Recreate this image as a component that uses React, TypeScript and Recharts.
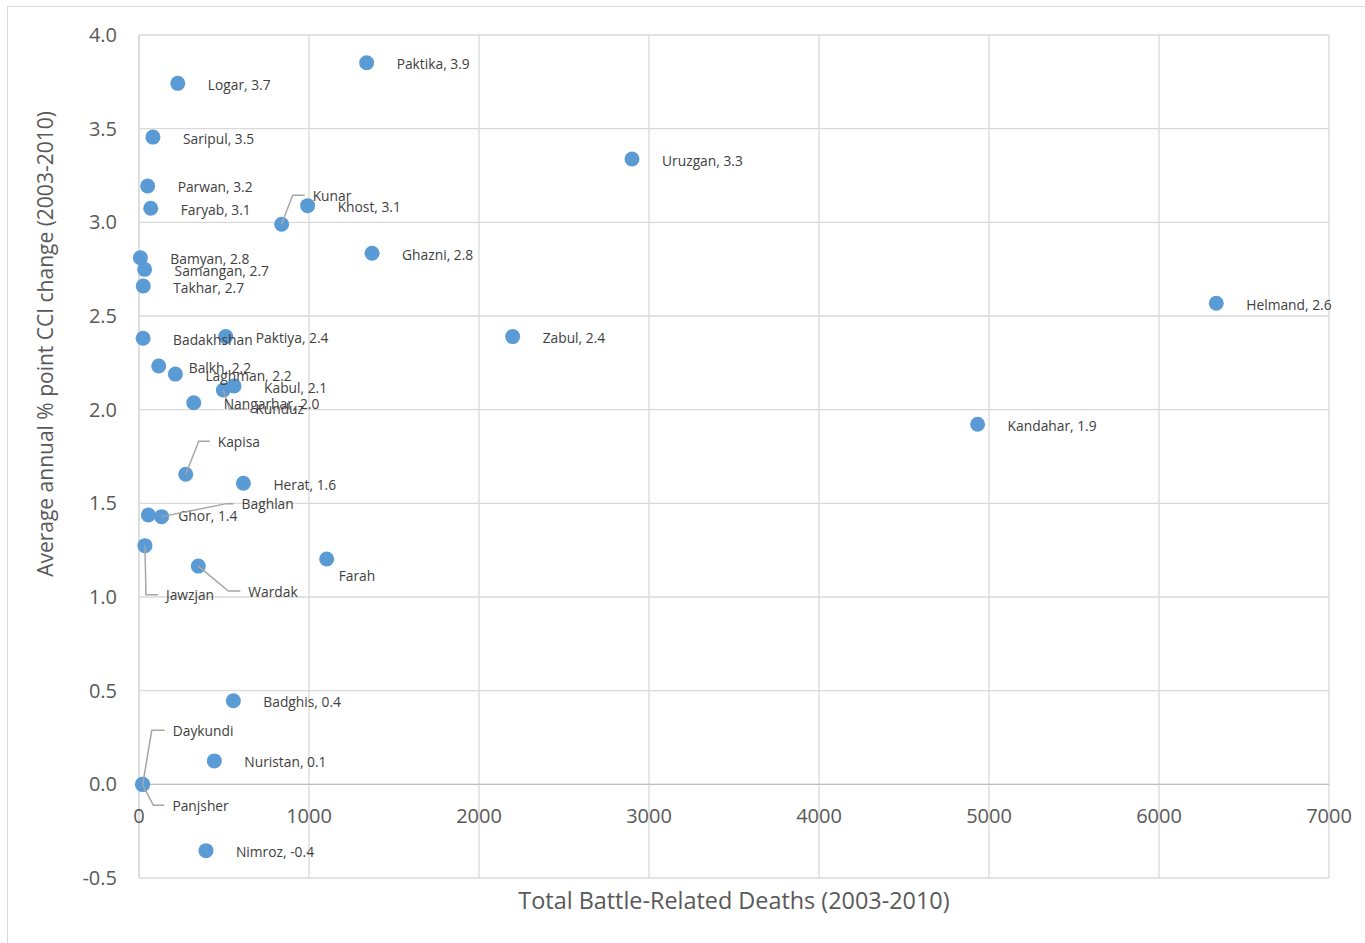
import { ScatterChart, Scatter, XAxis, YAxis, CartesianGrid, ReferenceLine, Label } from 'recharts'

// Province data
const PROVINCES = [
  'Paktika', 'Logar', 'Saripul', 'Uruzgan', 'Parwan', 'Faryab', 'Kunar', 'Khost',
  'Ghazni', 'Bamyan', 'Samangan', 'Takhar', 'Helmand', 'Badakhshan', 'Paktiya', 'Zabul',
  'Balkh', 'Laghman', 'Kabul', 'Kunduz', 'Nangarhar', 'Kandahar', 'Kapisa', 'Herat',
  'Ghor', 'Baghlan', 'Jawzjan', 'Farah', 'Wardak', 'Badghis', 'Daykundi', 'Nuristan',
  'Panjsher', 'Nimroz',
]
const DEATHS = [
  1339, 228, 82, 2900, 51, 69, 839, 992,
  1371, 8, 33, 25, 6337, 24, 510, 2198,
  116, 214, 559, 496, 322, 4933, 275, 614,
  55, 133, 35, 1104, 349, 555, 22, 443,
  20, 394,
]
const CCI_CHANGE = [
  3.852, 3.742, 3.455, 3.338, 3.194, 3.075, 2.99, 3.089,
  2.835, 2.811, 2.749, 2.66, 2.568, 2.381, 2.39, 2.39,
  2.233, 2.19, 2.126, 2.105, 2.037, 1.922, 1.655, 1.607,
  1.438, 1.429, 1.274, 1.203, 1.165, 0.446, 0.0, 0.125,
  0.0, -0.354,
]
// these labels show the province name only
const NAME_ONLY = ['Kunar', 'Kunduz', 'Kapisa', 'Baghlan', 'Jawzjan', 'Wardak', 'Farah', 'Daykundi', 'Panjsher', 'Badakhshan']

const X_TICKS = [0, 1000, 2000, 3000, 4000, 5000, 6000, 7000]
const Y_TICKS = [-0.5, 0, 0.5, 1.0, 1.5, 2.0, 2.5, 3.0, 3.5, 4.0]

const data = PROVINCES.map((name, i) => ({ name, deaths: DEATHS[i], cci: CCI_CHANGE[i] }))

const FONT = '"Open Sans", "Noto Sans", sans-serif'
const DOT_COLOR = '#5B9BD5'
const LEADER_COLOR = '#A6A6A6'

// moved labels: text start offset (dx, dy) from the dot, ex = elbow of leader line
const LABEL_LAYOUT: Record<string, { dx: number; dy: number; ex?: number }> = {
  Kunar: { dx: 31, dy: -29, ex: 11 },
  Kunduz: { dx: 32, dy: 19, ex: 6 },
  Kapisa: { dx: 32, dy: -33, ex: 13 },
  Baghlan: { dx: 80, dy: -13, ex: 65 },
  Jawzjan: { dx: 21, dy: 49, ex: 1 },
  Wardak: { dx: 50, dy: 25, ex: 30 },
  Daykundi: { dx: 30, dy: -54, ex: 9 },
  Panjsher: { dx: 30, dy: 21, ex: 11 },
  Farah: { dx: 12, dy: 17 },
}

function Dot(props: any) {
  const { cx, cy } = props
  return <circle cx={cx} cy={cy} r={7.5} fill={DOT_COLOR} />
}

function PointLabel(props: any) {
  const { cx, cy, payload } = props
  const name = payload.name
  const text = NAME_ONLY.includes(name) ? name : `${name}, ${payload.cci.toFixed(1)}`
  const layout = LABEL_LAYOUT[name] ?? { dx: 30, dy: 1 }
  const ty = cy + layout.dy
  return (
    <g>
      {layout.ex !== undefined && (
        <polyline
          points={`${cx},${cy} ${cx + layout.ex},${ty} ${cx + layout.dx - 8},${ty}`}
          fill="none"
          stroke={LEADER_COLOR}
          strokeWidth={1.5}
        />
      )}
      <text
        x={cx + layout.dx}
        y={ty}
        dominantBaseline="central"
        fontFamily={FONT}
        fontSize={13.8}
        fill="#404040"
      >
        {text}
      </text>
    </g>
  )
}

function XTick(props: any) {
  const { x, y, payload } = props
  // horizontal axis crosses at 0, so its labels sit under the 0.0 line
  return (
    <text x={x} y={y - 63} textAnchor="middle" dominantBaseline="central" fontFamily={FONT} fontSize={20} fill="#595959">
      {payload.value}
    </text>
  )
}

export default function App() {
  return (
    <div style={{ position: 'absolute', left: 0, top: 0, width: 1365, height: 943, overflow: 'hidden', background: '#fff' }}>
      <div style={{ position: 'absolute', left: 7, top: 6, width: 1420, height: 1000, border: '1px solid #D9D9D9' }} />
      <ScatterChart
        width={1365}
        height={943}
        margin={{ top: 35, right: 36, bottom: 35, left: 79 }}
        style={{ position: 'absolute', left: 0, top: 0 }}
      >
        <CartesianGrid stroke="#D9D9D9" strokeWidth={1.3} />
        <XAxis
          type="number"
          dataKey="deaths"
          domain={[0, 7000]}
          ticks={X_TICKS}
          axisLine={false}
          tickLine={false}
          tickSize={0}
          tickMargin={0}
          height={30}
          tick={<XTick />}
        >
          <Label
            content={() => (
              <text x={734} y={900} textAnchor="middle" dominantBaseline="central" fontFamily={FONT} fontSize={23.4} fill="#595959">
                Total Battle-Related Deaths (2003-2010)
              </text>
            )}
          />
        </XAxis>
        <YAxis
          type="number"
          dataKey="cci"
          domain={[-0.5, 4]}
          ticks={Y_TICKS}
          width={60}
          axisLine={{ stroke: '#D9D9D9', strokeWidth: 1.3 }}
          tickLine={false}
          tickSize={0}
          tickMargin={22}
          tickFormatter={(v: number) => v.toFixed(1)}
          tick={{ fill: '#595959', fontSize: 20, fontFamily: FONT }}
        >
          <Label
            content={() => (
              <text
                x={45}
                y={344}
                transform="rotate(-90, 45, 344)"
                textAnchor="middle"
                dominantBaseline="central"
                fontFamily={FONT}
                fontSize={21}
                fill="#595959"
              >
                Average annual % point CCI change (2003-2010)
              </text>
            )}
          />
        </YAxis>
        <ReferenceLine y={0} stroke="#BFBFBF" strokeWidth={1.3} />
        <Scatter data={data} shape={<Dot />} isAnimationActive={false} />
        <Scatter data={data} shape={<PointLabel />} isAnimationActive={false} />
      </ScatterChart>
    </div>
  )
}
